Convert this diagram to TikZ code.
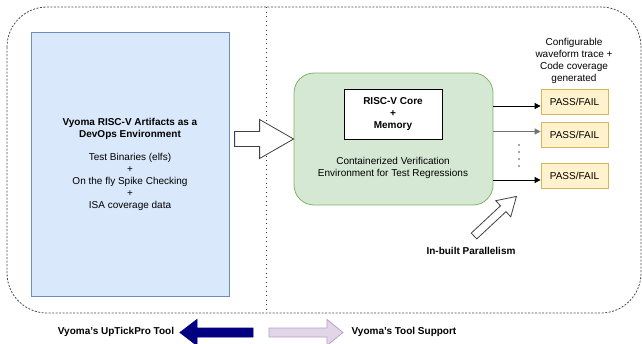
\documentclass[tikz,border=0pt]{standalone}
\usepackage{fontspec}
\setmainfont{Liberation Sans}
\usepackage{tikz}
\usetikzlibrary{arrows.meta,calc}

\definecolor{bluefill}{HTML}{DAE8FC}
\definecolor{blueline}{HTML}{6C8EBF}
\definecolor{greenfill}{HTML}{D5E8D4}
\definecolor{greenline}{HTML}{82B366}
\definecolor{passfill}{HTML}{FFF2CC}
\definecolor{passline}{HTML}{D6B656}
\definecolor{purplefill}{HTML}{E1D5E7}
\definecolor{purpleline}{HTML}{B9A0C8}
\definecolor{navy}{HTML}{000080}

\begin{document}
\begin{tikzpicture}[x=1pt,y=-1pt,font=\fontsize{10}{12}\selectfont,line width=0.8pt,
    box/.style={draw, inner sep=0pt, align=center},
    passbox/.style={box, fill=passfill, draw=passline, minimum width=67pt, minimum height=25pt},
    hollow/.style={draw=black!75, fill=white, line join=miter},
    link/.style={-{Triangle[length=6pt,width=6pt]}}]
            \useasboundingbox (0,0) rectangle (642,343);
            \draw[black!70, dash pattern=on 2pt off 1.5pt, rounded corners=40pt] (7,7) rectangle (641,313);
            \coordinate (divtop) at (266,7);
            \coordinate (divbot) at (266,313);
            \draw[black!80, line width=1pt, dash pattern=on 1pt off 3.5pt] (divtop) -- (divbot);
            \node[box, fill=bluefill, draw=blueline, minimum width=198pt, minimum height=264pt] (artifacts) at (130,164)
                {\textbf{Vyoma RISC-V Artifacts as a}\\\textbf{DevOps Environment}\\[11pt]Test Binaries (elfs)\\+\\On the fly Spike Checking\\+\\ISA coverage data};
            \node[box, fill=greenfill, draw=greenline, rounded corners=20pt, minimum width=199pt, minimum height=132pt] (env) at (393.5,139) {};
            \node[box, fill=white, minimum width=98pt, minimum height=50pt] (core) at (393,114) {\textbf{RISC-V Core}\\\textbf{+}\\\textbf{Memory}};
            \node[align=center, inner sep=0pt] (envtext) at (393,167.5) {Containerized Verification\\Environment for Test Regressions};
            \node[passbox] (pf1) at (574.5,102) {PASS/FAIL};
            \node[passbox] (pf2) at (574.5,134.5) {PASS/FAIL};
            \node[passbox] (pf3) at (574.5,175.5) {PASS/FAIL};
            \node[align=center, inner sep=0pt] (trace) at (574,61) {Configurable\\waveform trace +\\Code coverage\\generated};
            \coordinate (out1) at ($(pf1.west)+(0,4)$);
            \coordinate (out2) at ($(pf2.west)+(0,-3)$);
            \coordinate (out3) at ($(pf3.west)+(0,4.5)$);
            \draw[link] (env.east |- out1) -- (out1);
            \draw[link, black!55] (env.east |- out2) -- (out2);
            \draw[link] (env.east |- out3) -- (out3);
            \foreach \y in {145,152,159,166} \fill[black!70] (519,\y) circle (0.8pt);
            % input arrow into the container
            \draw[hollow] (env.west) -- ++(-34,-19.5) -- ++(0,12) -- ++(-25,0) -- ++(0,15) -- ++(25,0) -- ++(0,12) -- cycle;
            % parallelism arrow
            \node (par) at (471,251) {\textbf{In-built Parallelism}};
            \coordinate (partail) at (474,236);
            \begin{scope}[shift={(partail)}, rotate=43]
                \draw[hollow] (0,-4) -- (40,-4) -- (40,-11) -- (58,0) -- (40,11) -- (40,4) -- (0,4) -- cycle;
            \end{scope}
            % legend
            \node (uptick) at (116,332) {\textbf{Vyoma's UpTickPro Tool}};
            \node (support) at (404,332) {\textbf{Vyoma's Tool Support}};
            \coordinate (uptip) at (180,332.5);
            \coordinate (suptip) at (343,332.5);
            \draw[fill=navy, draw=navy] (uptip) -- ++(17,-13) -- ++(0,8.5) -- ++(56,0) -- ++(0,9) -- ++(-56,0) -- ++(0,8.5) -- cycle;
            \draw[fill=purplefill, draw=purpleline] (suptip) -- ++(-16,-13) -- ++(0,8.5) -- ++(-58,0) -- ++(0,9) -- ++(58,0) -- ++(0,8.5) -- cycle;
        \end{tikzpicture}
\end{document}
